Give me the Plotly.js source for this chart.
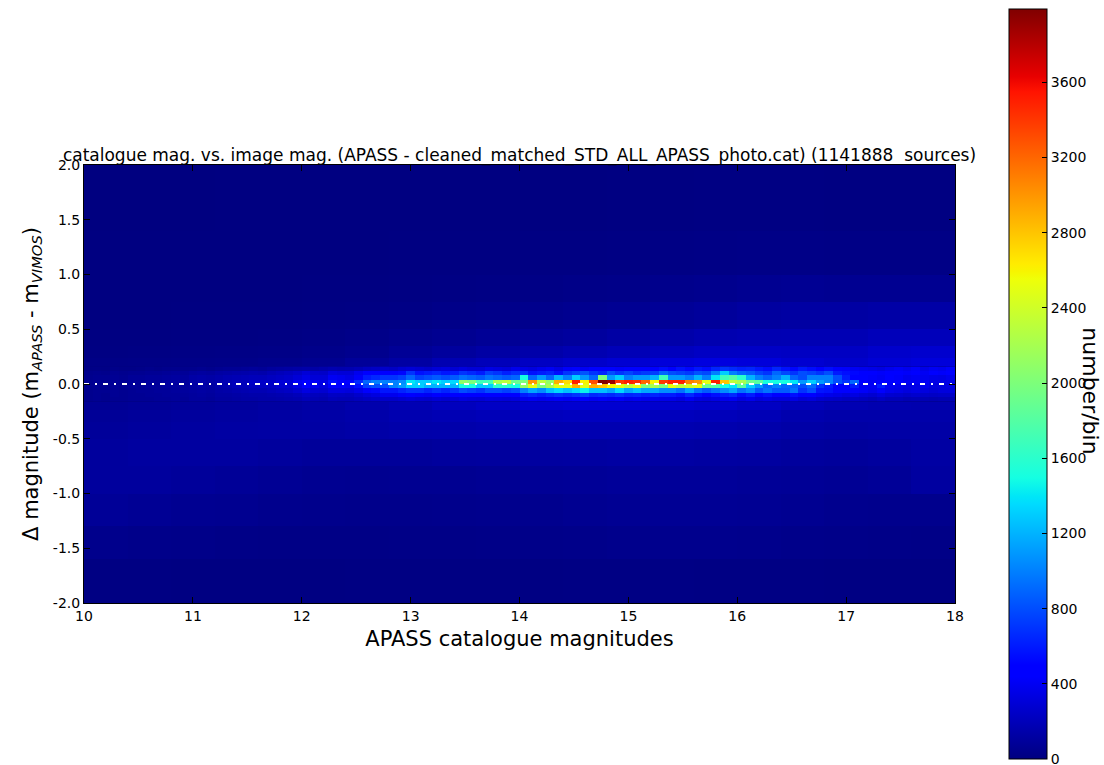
<!DOCTYPE html>
<html>
<head>
<meta charset="utf-8">
<script src="https://cdn.plot.ly/plotly-3.0.1.min.js"></script>
<style>html,body{margin:0;padding:0;background:#fff;}#chart{width:1104px;height:765px;}</style>
</head>
<body>
<div id="chart"></div>
<script>
// ---- data: 2D histogram counts (number/bin) ----
// fine bins near Δ=0 : x bins of 0.08 mag from 10 to 18, rows centred at -0.14 ... 0.14
const coreYEdges = [-0.16, -0.12, -0.08, -0.04, 0, 0.04, 0.08, 0.12, 0.16];
const row_m14 = [50,60,50,60,60,70,70,70,80,80,90,80,100,100,90,110,110,
  120,130,130,140,140,150,160,170,200,180,170,200,190,190,210,230,250,
  260,260,280,300,280,270,300,280,300,330,310,300,330,320,310,330,380,
  400,380,400,420,400,420,450,400,420,400,420,380,400,380,380,370,
  370,340,400,340,320,350,380,400,340,380,320,350,320,320,350,300,320,
  280,260,250,230,240,220,200,230,200,200,180,190,180,170,180,180];
const row_m10 = [50,60,50,70,60,70,70,80,80,90,90,90,100,110,100,120,120,
  130,140,150,150,160,170,180,200,240,210,200,240,230,220,260,300,330,
  380,380,420,450,420,400,450,420,450,500,470,450,500,490,470,500,600,
  650,600,650,700,650,700,760,650,680,650,700,630,650,610,630,600,
  600,550,650,550,500,550,600,650,530,600,500,550,500,500,550,450,500,
  400,370,350,320,340,300,280,320,280,270,250,270,250,240,250,250];
const row_m06 = [50,60,60,70,60,70,80,80,90,90,100,100,110,120,110,130,140,
  160,170,180,180,200,220,240,280,340,290,280,340,340,320,370,460,520,
  580,580,640,700,700,640,700,640,700,800,750,700,800,800,750,800,1000,
  1150,1050,1250,1350,1250,1350,1450,1250,1250,1150,1350,1150,1250,1150,1150,1050,
  1050,950,1150,950,850,950,1050,1150,950,1050,850,950,850,850,950,700,800,
  580,560,500,450,470,420,380,440,380,360,330,350,330,300,320,320];
const row_m02 = [60,70,60,80,70,90,80,100,90,110,110,100,120,140,120,150,170,
  200,200,220,230,240,280,280,350,450,380,330,450,430,400,550,750,800,
  800,1000,1100,1300,1300,1200,1200,1200,1200,1500,1500,1300,1300,1600,1600,1500,2100,
  2500,2000,2200,2500,2500,2900,2500,2900,2800,2600,2500,2300,2500,2000,2200,2000,
  2500,2300,2400,2500,1900,1800,1500,1400,1800,1300,1100,900,1000,900,900,800,900,
  700,600,500,500,600,400,400,600,400,380,350,350,380,330,330,350];
const row_p02 = [60,70,60,80,70,90,80,100,90,110,120,100,130,150,130,160,180,
  200,200,250,250,250,300,300,400,500,400,350,550,500,450,650,900,1000,
  1000,1000,1050,1400,1300,1300,1400,1300,1350,2100,2000,1700,1700,2200,2300,1900,2000,
  3000,2300,2100,2900,2700,3500,2600,3300,3990,3900,3400,3500,3450,3200,2600,3400,
  3500,3500,3100,3000,2500,3500,2800,2300,2200,1900,1800,1500,1500,1500,1400,1100,1300,
  1100,1000,800,700,900,500,400,500,500,450,400,400,400,350,350,350];
const row_p06 = [50,60,60,70,60,80,80,90,90,100,110,100,130,140,130,150,170,
  180,190,200,200,220,240,260,300,350,300,300,400,380,350,420,600,650,
  700,700,750,900,750,800,850,800,850,950,900,850,950,900,850,900,1500,
  900,1100,900,1200,1000,1300,1100,900,2000,1100,1300,1000,1100,1100,1200,1700,
  1100,1100,1000,1200,1000,1400,1700,1800,1600,1200,1000,900,1000,1200,900,800,1000,
  1000,1000,800,600,500,450,420,400,450,420,380,400,380,360,350,380];
const row_p10 = [40,50,40,60,50,60,60,70,70,80,90,80,100,110,100,120,130,
  140,150,160,150,180,200,220,250,300,260,250,320,300,300,380,450,500,
  500,480,520,700,560,600,640,580,600,700,650,600,750,700,620,680,700,
  560,600,640,550,700,760,820,700,640,800,700,760,680,720,740,900,
  800,760,720,820,780,1000,1300,1000,900,850,760,700,900,780,700,800,760,
  700,800,600,550,520,480,450,420,500,460,420,480,400,450,420,450];
const row_p14 = [20,25,20,30,25,25,30,40,30,40,45,40,45,55,45,60,70,
  70,80,90,80,100,110,120,130,140,130,150,170,160,170,190,220,240,
  260,240,280,300,280,260,300,320,290,330,300,300,350,330,310,370,350,
  330,370,400,350,420,450,400,460,480,440,420,460,500,440,480,540,
  500,560,520,580,540,640,700,660,620,640,580,540,640,560,520,590,540,
  500,540,460,430,400,380,360,340,380,410,380,420,360,400,380,420];

// coarse background: x columns of 0.4 mag, rows between the y edges below (the |Δ|<0.16 row is covered by the fine bins)
const bgXEdges = [10,10.4,10.8,11.2,11.6,12,12.4,12.8,13.2,13.6,14,14.4,14.8,15.2,15.6,16,16.4,16.8,17.2,17.6,18];
const bgYEdges = [-2,-1.6,-1.3,-1.0,-0.75,-0.5,-0.35,-0.24,-0.16,0.16,0.24,0.35,0.5,0.75,1.0,1.4,2.0];
const bgRows = [
  [10,10,8,8,8,8,10,10,10,12,12,15,15,18,15,15,15,12,12,12],
  [40,35,30,25,20,20,20,25,25,28,30,35,40,45,45,40,35,30,28,25],
  [80,70,60,55,45,40,38,38,40,45,50,60,65,70,70,65,60,50,45,45],
  [100,100,90,80,70,60,55,60,60,65,75,80,85,85,85,80,75,70,80,110],
  [100,110,110,110,100,90,90,90,100,105,110,115,120,120,115,110,100,95,105,120],
  [90,100,110,120,125,125,135,145,150,160,165,170,170,165,160,150,135,125,130,130],
  [80,90,100,110,120,130,145,165,180,195,210,220,220,210,200,185,160,145,145,145],
  [70,80,90,100,115,130,155,180,215,240,265,280,280,270,255,230,200,175,165,160],
  [null,null,null,null,null,null,null,null,null,null,null,null,null,null,null,null,null,null,null,null],
  [20,25,28,30,40,55,85,120,170,200,230,260,285,310,330,310,280,260,290,310],
  [12,15,18,20,25,35,50,75,100,125,145,170,190,215,235,240,230,230,260,270],
  [8,8,10,12,15,20,30,45,60,75,90,105,125,145,165,175,180,180,200,200],
  [5,5,6,6,8,10,15,22,30,38,45,55,65,80,95,110,120,120,130,130],
  [3,3,4,4,5,6,8,10,14,18,22,26,30,40,50,60,65,60,60,60],
  [2,2,2,3,3,4,5,6,7,8,9,10,14,18,22,25,25,20,20,20],
  [1,1,1,2,2,2,3,3,4,4,5,5,6,8,10,10,10,8,8,8]
];

const refLineX = [10, 18];
const refLineY = [0, 0];
const xTicks = [10,11,12,13,14,15,16,17,18];
const yTicks = [-2,-1.5,-1,-0.5,0,0.5,1,1.5,2];
const cbTicks = [0,400,800,1200,1600,2000,2400,2800,3200,3600];
const zMax = 3990;

// fine x bin edges (0.08 mag grid)
const coreXEdges = [];
for (let i = 0; i <= 100; i++) coreXEdges.push(+(10 + 0.08 * i).toFixed(2));

const jet = [
  [0, 'rgb(0,0,128)'], [0.11, 'rgb(0,0,255)'], [0.125, 'rgb(0,0,255)'],
  [0.34, 'rgb(0,219,255)'], [0.35, 'rgb(0,230,247)'], [0.375, 'rgb(21,255,226)'],
  [0.64, 'rgb(239,255,8)'], [0.65, 'rgb(247,245,0)'], [0.66, 'rgb(255,236,0)'],
  [0.89, 'rgb(255,19,0)'], [0.91, 'rgb(232,0,0)'], [1, 'rgb(128,0,0)']
];

const FONT = 'DejaVu Sans, Bitstream Vera Sans, sans-serif';

const traces = [
  {type: 'heatmap', x: bgXEdges, y: bgYEdges, z: bgRows, coloraxis: 'coloraxis',
   zsmooth: false, hoverinfo: 'skip'},
  {type: 'heatmap', x: coreXEdges, y: coreYEdges,
   z: [row_m14, row_m10, row_m06, row_m02, row_p02, row_p06, row_p10, row_p14],
   coloraxis: 'coloraxis', zsmooth: false, hoverinfo: 'skip'},
  {type: 'scatter', mode: 'lines', x: refLineX, y: refLineY,
   line: {color: '#ffffff', width: 2, dash: '5px,6px,2px,6px'}, hoverinfo: 'skip', showlegend: false}
];

const layout = {
  width: 1104, height: 765,
  paper_bgcolor: '#ffffff', plot_bgcolor: 'rgb(0,0,128)',
  margin: {l: 84, r: 147, t: 165, b: 162, pad: 0},
  font: {family: FONT, color: '#000', size: 14},
  showlegend: false,
  title: {text: 'catalogue mag. vs. image mag. (APASS - cleaned_matched_STD_ALL_APASS_photo.cat) (1141888  sources)',
          font: {family: FONT, size: 17, color: '#000'},
          x: 0.5, xref: 'paper', xanchor: 'center', y: 1 - 155/765, yref: 'container', yanchor: 'middle'},
  xaxis: {range: [10, 18], tickvals: xTicks, ticktext: xTicks.map(String),
          ticks: 'inside', ticklen: 6, tickcolor: '#000', showline: true, linecolor: '#000', linewidth: 1,
          mirror: 'ticks', showgrid: false, zeroline: false, tickfont: {size: 14},
          title: {text: 'APASS catalogue magnitudes', font: {size: 21}, standoff: 8}},
  yaxis: {range: [-2, 2], tickvals: yTicks, ticktext: yTicks.map(v => v.toFixed(1)),
          ticks: 'inside', ticklen: 6, tickcolor: '#000', showline: true, linecolor: '#000', linewidth: 1,
          mirror: 'ticks', showgrid: false, zeroline: false, tickfont: {size: 14},
          title: {text: 'Δ magnitude (m<sub><i>APASS</i></sub> - m<sub><i>VIMOS</i></sub>)', font: {size: 21}, standoff: 8}},
  coloraxis: {
    colorscale: jet, cmin: 0, cmax: zMax,
    colorbar: {
      xref: 'paper', x: (1011 - 84) / 873, xanchor: 'left', xpad: 0,
      yref: 'paper', y: (603 - 384) / 438, yanchor: 'middle', ypad: 0,
      lenmode: 'pixels', len: 750, thickness: 38, thicknessmode: 'pixels',
      outlinewidth: 1, outlinecolor: '#000',
      tickvals: cbTicks, ticktext: cbTicks.map(String), ticks: 'inside', ticklen: 5, tickcolor: '#000',
      ticklabeloverflow: 'allow',
      tickfont: {size: 14, family: FONT}
    }
  },
  annotations: [{
    text: 'number/bin', textangle: 90, showarrow: false,
    xref: 'paper', yref: 'paper', x: (1093 - 84) / 873, y: (603 - 391) / 438,
    xanchor: 'center', yanchor: 'middle', font: {size: 22, family: FONT, color: '#000'}
  }]
};

Plotly.newPlot('chart', traces, layout, {displayModeBar: false, staticPlot: true});
</script>
</body>
</html>
